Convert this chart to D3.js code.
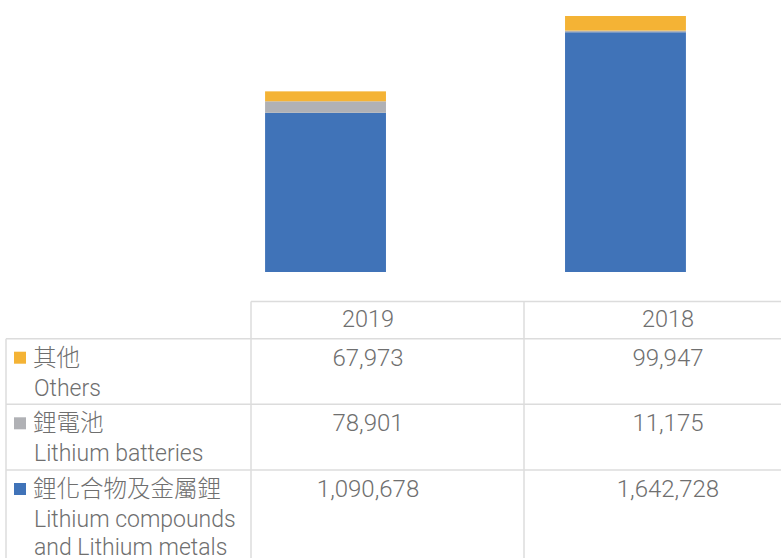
<!DOCTYPE html>
<html>
<head>
<meta charset="utf-8">
<script src="https://cdn.jsdelivr.net/npm/d3@7"></script>
<style>
  body { margin: 0; background: #fff; }
  svg { display: block; }
  text { font-family: "Helvetica Neue", Roboto, "Liberation Sans", sans-serif; font-weight: 300; fill: #6f6f6f; }
  .cjk { font-family: "Noto Sans CJK TC", "Noto Sans CJK SC", sans-serif; font-weight: 300; }
</style>
</head>
<body>
<div id="chart"></div>
<script>
// data
let years = ["2019", "2018"];
let seriesKeys = ["lithium", "batteries", "others"];   // stacking order, bottom to top
let seriesZh = ["鋰化合物及金屬鋰", "鋰電池", "其他"];
let seriesEn = [["Lithium compounds", "and Lithium metals"], ["Lithium batteries"], ["Others"]];
let seriesColor = ["#4073b8", "#b0b1b5", "#f4b335"];
let lithiumValues = [1090678, 1642728];
let batteryValues = [78901, 11175];
let otherValues = [67973, 99947];

let width = 781, height = 558;

let svg = d3.select("#chart")
	.append("svg")
	.attr("width", width)
	.attr("height", height);

// build table rows for the stack
let rows = years.map(function (y, i) {
	return { year: y, lithium: lithiumValues[i], batteries: batteryValues[i], others: otherValues[i] };
});
let stacked = d3.stack().keys(seriesKeys)(rows);

let xScale = d3.scaleBand().domain(years).range([86, 865]).paddingInner(0.597).paddingOuter(0.597);
let yScale = d3.scaleLinear()
	.domain([0, d3.max(rows, function (d) { return d.lithium + d.batteries + d.others; })])
	.range([272, 16]);

let barG = svg.append("g");
barG.selectAll("g")
	.data(stacked)
	.enter().append("g")
	.attr("fill", function (d, i) { return seriesColor[i]; })
	.selectAll("rect")
	.data(function (d) { return d; })
	.enter().append("rect")
	.attr("x", function (d) { return xScale(d.data.year); })
	.attr("width", xScale.bandwidth())
	.attr("y", function (d) { return yScale(d[1]); })
	.attr("height", function (d) { return yScale(d[0]) - yScale(d[1]); });

// table below the bars
let colEdges = [6, 251, 524, 812];
let headerTop = 301.5, rowTops = [338.7, 404.3, 470];
let lineColor = "#dcdcdc";
let tbl = svg.append("g");

// horizontal lines
tbl.append("line").attr("x1", colEdges[1]).attr("x2", width).attr("y1", headerTop).attr("y2", headerTop);
rowTops.forEach(function (t) {
	tbl.append("line").attr("x1", colEdges[0]).attr("x2", width).attr("y1", t).attr("y2", t);
});
// vertical lines
tbl.append("line").attr("x1", colEdges[0]).attr("x2", colEdges[0]).attr("y1", rowTops[0]).attr("y2", height);
tbl.append("line").attr("x1", colEdges[1]).attr("x2", colEdges[1]).attr("y1", headerTop).attr("y2", height);
tbl.append("line").attr("x1", colEdges[2]).attr("x2", colEdges[2]).attr("y1", headerTop).attr("y2", height);
tbl.selectAll("line").attr("stroke", lineColor).attr("stroke-width", 1.5);

let fmt = d3.format(",");
// table text sits a bit right of the bar centres
let colCenter = function (i) { return xScale(years[i]) + xScale.bandwidth() / 2 + 42.5; };

// header
years.forEach(function (y, i) {
	tbl.append("text")
		.attr("x", colCenter(i))
		.attr("y", 327)
		.attr("text-anchor", "middle")
		.style("font-size", "23.5px")
		.text(y);
});

// body rows: top to bottom is others, batteries, lithium
let order = [2, 1, 0];
let valueSets = [lithiumValues, batteryValues, otherValues];
order.forEach(function (s, r) {
	let top = rowTops[r];
	tbl.append("rect")
		.attr("x", 14).attr("y", top + 13)
		.attr("width", 12).attr("height", 12)
		.attr("fill", seriesColor[s]);
	tbl.append("text")
		.attr("class", "cjk")
		.attr("x", 33)
		.attr("y", top + 27)
		.style("font-size", "23.5px")
		.text(seriesZh[s]);
	seriesEn[s].forEach(function (line, k) {
		tbl.append("text")
			.attr("x", 34)
			.attr("y", top + 57 + k * 27.5)
			.style("font-size", "23px")
			.text(line);
	});
	years.forEach(function (y, i) {
		tbl.append("text")
			.attr("x", colCenter(i))
			.attr("y", top + 27)
			.attr("text-anchor", "middle")
			.style("font-size", "24px")
			.text(fmt(valueSets[s][i]));
	});
});
</script>
</body>
</html>
